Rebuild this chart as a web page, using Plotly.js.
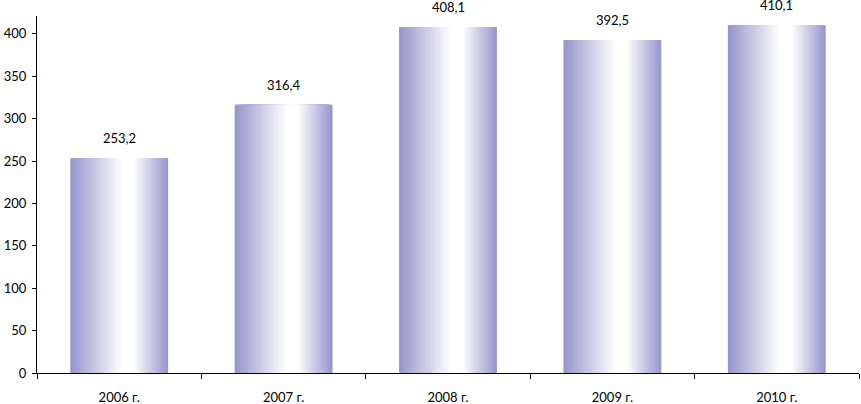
<!DOCTYPE html>
<html>
<head>
<meta charset="utf-8">
<script src="https://cdn.plot.ly/plotly-3.0.1.min.js"></script>
<style>html,body{margin:0;padding:0;background:#fff}#chart{width:861px;height:404px}</style>
</head>
<body>
<div id="chart"></div>
<script>
const categories = ["2006 г.", "2007 г.", "2008 г.", "2009 г.", "2010 г."];
const values = [253.2, 316.4, 408.1, 392.5, 410.1];
const valueLabels = ["253,2", "316,4", "408,1", "392,5", "410,1"];

// gradient rendered as nested overlay bars (style only)
const barWidth = 0.595;
const peak = 0.06;            // white peak offset from centre (category units)
const levels = 36;
const edge = [150, 150, 204];
const white = [255, 255, 255];
const traces = [];
for (let i = 0; i < levels; i++) {
  const t = i / levels;
  const left = -barWidth / 2 + t * (peak + barWidth / 2);
  const right = barWidth / 2 - t * (barWidth / 2 - peak);
  const tt = Math.min(1, t * 1.15);
  const c = edge.map((e, k) => Math.round(e + (white[k] - e) * tt));
  traces.push({
    type: 'bar',
    x: categories,
    y: values,
    width: right - left,
    offset: left,
    marker: {color: `rgb(${c[0]},${c[1]},${c[2]})`, line: {width: 0}},
    hoverinfo: 'skip',
    showlegend: false
  });
}

const annotations = categories.map((c, i) => ({
  x: c, y: values[i], xref: 'x', yref: 'y',
  text: valueLabels[i], showarrow: false,
  yanchor: 'middle', yshift: 20,
  font: {family: 'Lato, sans-serif', size: 13, color: '#000'}
}));

const layout = {
  width: 861, height: 404,
  margin: {l: 37, r: 2, t: 16, b: 31},
  paper_bgcolor: '#fff', plot_bgcolor: '#fff',
  barmode: 'overlay',
  showlegend: false,
  font: {family: 'Lato, sans-serif', size: 13, color: '#000'},
  xaxis: {
    type: 'category', range: [-0.5, 4.5],
    showline: true, linecolor: '#000', linewidth: 1,
    ticks: 'outside', tickson: 'boundaries', ticklen: 5, tickcolor: '#000',
    ticklabelstandoff: 12,
    showgrid: false, zeroline: false, fixedrange: true
  },
  yaxis: {
    range: [0, 421],
    tickvals: [0, 50, 100, 150, 200, 250, 300, 350, 400],
    showline: true, linecolor: '#000', linewidth: 1,
    ticks: 'outside', ticklen: 4, tickcolor: '#000',
    ticklabelstandoff: 3,
    showgrid: false, zeroline: false, fixedrange: true
  },
  annotations: annotations
};

Plotly.newPlot('chart', traces, layout, {displayModeBar: false, staticPlot: true});
</script>
</body>
</html>
